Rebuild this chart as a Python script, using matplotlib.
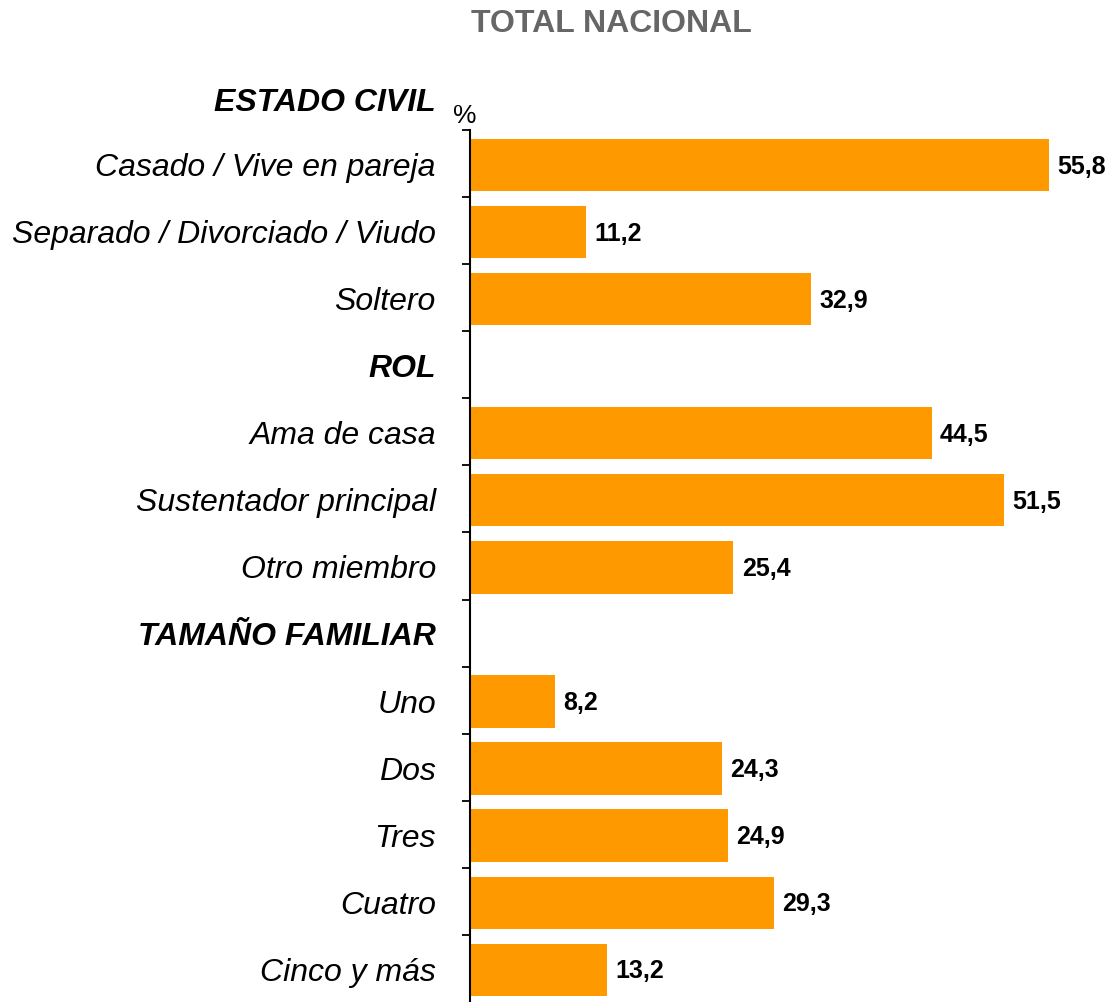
import matplotlib.pyplot as plt
import numpy as np

plt.rcParams['font.family'] = ['Liberation Sans', 'DejaVu Sans']

labels = ['Casado / Vive en pareja', 'Separado / Divorciado / Viudo', 'Soltero',
          'ROL', 'Ama de casa', 'Sustentador principal', 'Otro miembro',
          'TAMAÑO FAMILIAR', 'Uno', 'Dos', 'Tres', 'Cuatro', 'Cinco y más']
values = [55.8, 11.2, 32.9, None, 44.5, 51.5, 25.4, None, 8.2, 24.3, 24.9, 29.3, 13.2]
headers = ['ROL', 'TAMAÑO FAMILIAR']

fig = plt.figure(figsize=(11.13, 10.03), dpi=100)
ax = fig.add_axes([470 / 1113, 0, 1 - 470 / 1113, 1 - 131 / 1003])

orange = '#FF9900'
for i, (lab, v) in enumerate(zip(labels, values)):
    if v is not None:
        ax.barh(i + 0.02, v, height=0.78, color=orange)
        ax.text(v + 0.8, i + 0.03, f'{v:.1f}'.replace('.', ','), va='center', ha='left',
                fontsize=18, fontweight='bold', color='black')
    weight = 'bold' if lab in headers else 'normal'
    ax.text(-3.3, i + 0.05, lab, ha='right', va='center', fontsize=23,
            fontweight=weight, style='italic')

ax.set_xlim(0, 62)
ax.set_ylim(12.5, -0.5)
for s in ['top', 'right', 'bottom']:
    ax.spines[s].set_visible(False)
ax.spines['left'].set_linewidth(1.5)
ax.set_xticks([])
ax.set_yticks(np.arange(-0.5, 12.5, 1.0))
ax.set_yticklabels([])
ax.tick_params(axis='y', length=6, width=1.3, direction='out')

fig.text(611 / 1113, 1 - 24 / 1003, 'TOTAL NACIONAL', ha='center', va='center',
         fontsize=23, fontweight='bold', color='#666666')
fig.text(436 / 1113, 1 - 103 / 1003, 'ESTADO CIVIL', ha='right', va='center',
         fontsize=23, fontweight='bold', style='italic')
fig.text(465 / 1113, 1 - 116 / 1003, '%', ha='center', va='center', fontsize=19)

fig.savefig('out.png', dpi=100)
